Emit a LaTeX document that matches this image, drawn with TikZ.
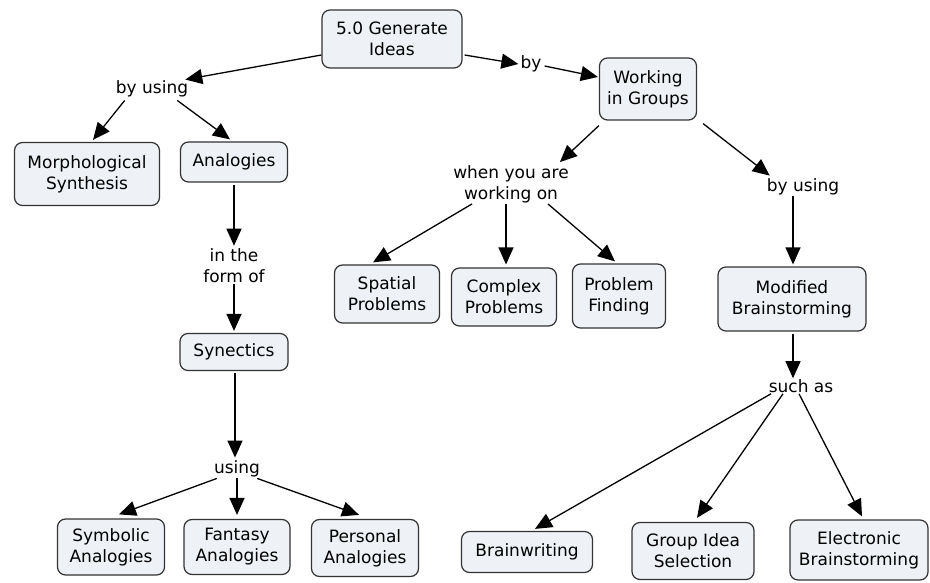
\documentclass[tikz,border=0pt]{standalone}
\usepackage{fontspec}
\setmainfont{DejaVu Sans}
\usetikzlibrary{arrows.meta,calc}
\definecolor{boxfill}{HTML}{EEF1F5}
\definecolor{boxline}{HTML}{333333}
\tikzset{
  cbox/.style={draw=boxline, line width=1.2pt, fill=boxfill, rounded corners=8pt, align=center, inner sep=2pt, font=\fontsize{17}{21}\selectfont},
  lbl/.style={align=center, inner sep=1pt, font=\fontsize{17}{21}\selectfont},
  conn/.style={line width=1.3pt, draw=black, -{Triangle[length=17pt,width=15pt]}},
}
\begin{document}
\begin{tikzpicture}[x=1pt,y=-1pt]
\useasboundingbox[fill=white] (0,0) rectangle (930,583);
% boxes
\node[cbox, minimum width=140pt, minimum height=58pt] (gen) at (392,39) {5.0 Generate\\Ideas};
\node[cbox, minimum width=97pt, minimum height=62pt] (work) at (648,89) {Working\\in Groups};
\node[cbox, minimum width=145pt, minimum height=63pt] (morph) at (87,174) {Morphological\\Synthesis};
\node[cbox, minimum width=107pt, minimum height=40pt] (anal) at (234,162) {Analogies};
\node[cbox, minimum width=108pt, minimum height=37pt] (syn) at (234,352) {Synectics};
\node[cbox, minimum width=107pt, minimum height=56pt] (symb) at (111,547) {Symbolic\\Analogies};
\node[cbox, minimum width=106pt, minimum height=55pt] (fant) at (237,547) {Fantasy\\Analogies};
\node[cbox, minimum width=107pt, minimum height=57pt] (pers) at (365,548) {Personal\\Analogies};
\node[cbox, minimum width=105pt, minimum height=58pt] (spat) at (387,294) {Spatial\\Problems};
\node[cbox, minimum width=105pt, minimum height=58pt] (comp) at (504,297) {Complex\\Problems};
\node[cbox, minimum width=93pt, minimum height=64pt] (pfind) at (619,296) {Problem\\Finding};
\node[cbox, minimum width=148pt, minimum height=64pt] (mod) at (792,299) {Modified\\Brainstorming};
\node[cbox, minimum width=131pt, minimum height=41pt] (bw) at (527,552) {Brainwriting};
\node[cbox, minimum width=122pt, minimum height=57pt] (gis) at (693,551) {Group Idea\\Selection};
\node[cbox, minimum width=138pt, minimum height=60pt] (eb) at (859,550) {Electronic\\Brainstorming};
% labels
\node[lbl] (by) at (531,64) {by};
\node[lbl] (byusingL) at (152,89) {by using};
\node[lbl] (form) at (234,266) {in the\\form of};
\node[lbl] (using) at (237,469) {using};
\node[lbl] (when) at (511,184) {when you are\\working on};
\node[lbl] (byusingR) at (803,187) {by using};
\node[lbl] (such) at (801,386) {such as};
% connectors
\draw[conn] ($(gen.west)+(0,16)$) -- ($(byusingL.north east)+(-4,0)$);
\draw[conn] ($(gen.east)+(2,16)$) -- ($(by.west)+(-1,0)$);
\draw[conn] ($(by.east)+(2,2)$) -- ($(work.west)+(-1,-12)$);
\draw[conn] ($(byusingL.south west)+(10,2)$) -- ($(morph.north)+(6,-2)$);
\draw[conn] ($(byusingL.south east)+(-12,2)$) -- ($(anal.north)+(-4,-2)$);
\draw[conn] ($(anal.south)+(0,2)$) -- ($(form.north)+(0,-2)$);
\draw[conn] (form.south) -- ($(syn.north)+(0,-2)$);
\draw[conn] ($(syn.south)+(1,2)$) -- ($(using.north -| syn.south)+(1,-2)$);
\draw[conn] ($(using.south west)+(4,0)$) -- ($(symb.north)+(8,-4)$);
\draw[conn] (using.south) -- ($(fant.north)+(0,-4)$);
\draw[conn] ($(using.south east)+(-4,0)$) -- ($(pers.north)+(-6,-4)$);
\draw[conn] ($(work.south west)+(0,5)$) -- ($(when.north east)+(-10,-2)$);
\draw[conn] ($(work.south east)+(6,3)$) -- ($(byusingR.north west)+(4,-2)$);
\draw[conn] ($(when.south west)+(20,0)$) -- ($(spat.north)+(-14,-2)$);
\draw[conn] ($(when.south)+(-5,0)$) -- ($(comp.north)+(2,-3)$);
\draw[conn] ($(when.south east)+(-22,0)$) -- ($(pfind.north)+(-4,-2)$);
\draw[conn] ($(byusingR.south)+(-10,0)$) -- ($(mod.north)+(1,-2)$);
\draw[conn] ($(mod.south)+(1,2)$) -- ($(such.north)+(-8,0)$);
\draw[conn] ($(such.south)+(-30,0)$) -- ($(bw.north)+(8,-2)$);
\draw[conn] ($(such.south)+(-18,0)$) -- ($(gis.north)+(4,-4)$);
\draw[conn] ($(such.south)+(-2,0)$) -- ($(eb.north)+(3,-3)$);
\end{tikzpicture}
\end{document}
